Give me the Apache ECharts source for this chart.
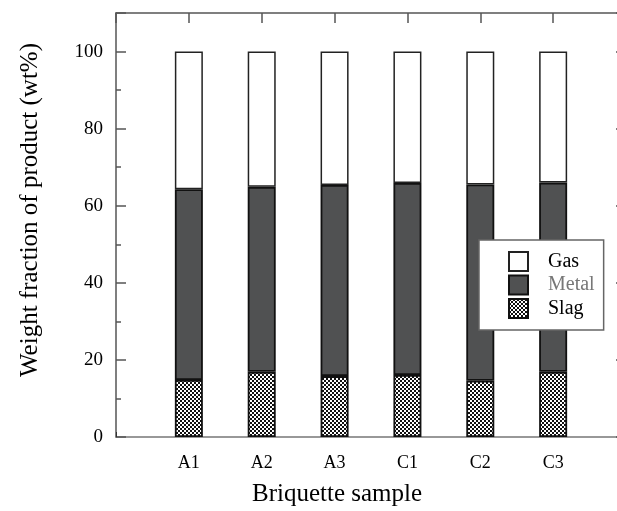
<!DOCTYPE html>
<html>
<head>
<meta charset="utf-8">
<script src="https://cdn.jsdelivr.net/npm/echarts@6/dist/echarts.min.js"></script>
<style>
  html, body { margin: 0; padding: 0; background: #fff; }
  #chart { width: 617px; height: 511px; }
</style>
</head>
<body>
<div id="chart"></div>
<script>
var samples = ['A1', 'A2', 'A3', 'C1', 'C2', 'C3'];
var slag  = [14.8, 16.9, 15.8, 16.1, 14.6, 16.9];
var metal = [49.5, 48.0, 49.6, 49.8, 50.9, 49.1];
var gas   = [35.7, 35.1, 34.6, 34.1, 34.5, 34.0];

// empty slot on each side so the bars sit away from the frame
var axisCats = [''].concat(samples, ['']);
function pad(arr) { return [null].concat(arr, [null]); }

// crosshatch fill for slag
var pat = document.createElement('canvas');
pat.width = 4; pat.height = 4;
var ctx = pat.getContext('2d');
ctx.fillStyle = '#ffffff';
ctx.fillRect(0, 0, 4, 4);
ctx.fillStyle = '#111111';
ctx.fillRect(0, 0, 2, 2);
ctx.fillRect(2, 2, 2, 2);

var font = 'Liberation Serif';
var myChart = echarts.init(document.getElementById('chart'));

var option = {
    animation: false,
    textStyle: { fontFamily: font },
    grid: { left: 116, top: 13, width: 510, height: 424, outerBoundsMode: 'none', containLabel: false },
    legend: {
        orient: 'vertical',
        left: 479,
        top: 240,
        padding: [11, 9, 11, 29],
        itemWidth: 19,
        itemHeight: 19,
        itemGap: 2.5,
        backgroundColor: '#fff',
        borderColor: '#666',
        borderWidth: 1.5,
        borderRadius: 0,
        textStyle: { fontFamily: font, fontSize: 20, lineHeight: 19, color: '#000', padding: [0, 0, 0, 15] },
        data: [
            { name: 'Gas', icon: 'rect' },
            { name: 'Metal', icon: 'rect', textStyle: { color: '#777' } },
            { name: 'Slag', icon: 'rect' }
        ]
    },
    xAxis: [
        {
            type: 'category',
            data: axisCats,
            boundaryGap: false,
            name: 'Briquette sample',
            nameLocation: 'middle',
            nameGap: 45,
            nameTextStyle: { fontFamily: font, fontSize: 25, color: '#000', padding: [0, 68, 0, 0] },
            axisLine: { onZero: false, lineStyle: { color: '#777', width: 1.5 } },
            axisTick: { inside: true, length: 5, lineStyle: { color: '#333' } },
            axisLabel: { fontFamily: font, fontSize: 18, color: '#000', margin: 17 },
            splitLine: { show: false }
        },
        {
            type: 'category',
            data: axisCats,
            boundaryGap: false,
            position: 'top',
            axisLine: { onZero: false, lineStyle: { color: '#555', width: 1.5 } },
            axisTick: { inside: true, length: 10, lineStyle: { color: '#555', width: 1.5 } },
            axisLabel: { show: false },
            splitLine: { show: false }
        }
    ],
    yAxis: [
        {
            type: 'value',
            min: 0,
            max: 110,
            interval: 20,
            name: 'Weight fraction of product (wt%)',
            nameLocation: 'middle',
            nameGap: 73,
            nameTextStyle: { fontFamily: font, fontSize: 25, color: '#000', padding: [0, 0, 0, 30] },
            axisLine: { show: true, onZero: false, lineStyle: { color: '#555', width: 1.5 } },
            axisTick: { show: true, inside: true, length: 10, lineStyle: { color: '#555', width: 1.5 } },
            minorTick: { show: true, splitNumber: 2, length: 5, lineStyle: { color: '#555', width: 1.5 } },
            axisLabel: {
                fontFamily: font, fontSize: 19, color: '#000', margin: 13,
                formatter: function (v) { return v > 100 ? '' : v; }
            },
            splitLine: { show: false }
        },
        {
            type: 'value',
            min: 0,
            max: 110,
            interval: 20,
            position: 'right',
            axisLine: { show: true, onZero: false, lineStyle: { color: '#555', width: 1.5 } },
            axisTick: { show: true, inside: true, length: 10, lineStyle: { color: '#555', width: 1.5 } },
            axisLabel: { show: false },
            splitLine: { show: false }
        }
    ],
    series: [
        {
            name: 'Slag', type: 'bar', stack: 'total', barWidth: 28,
            data: pad(slag),
            itemStyle: { color: { image: pat, repeat: 'repeat' }, borderColor: '#111', borderWidth: 1.8 }
        },
        {
            name: 'Metal', type: 'bar', stack: 'total', barWidth: 28,
            data: pad(metal),
            itemStyle: { color: '#505152', borderColor: '#111', borderWidth: 1.8 }
        },
        {
            name: 'Gas', type: 'bar', stack: 'total', barWidth: 28,
            data: pad(gas),
            itemStyle: { color: '#ffffff', borderColor: '#222', borderWidth: 1.5 }
        }
    ]
};

myChart.setOption(option);
</script>
</body>
</html>
